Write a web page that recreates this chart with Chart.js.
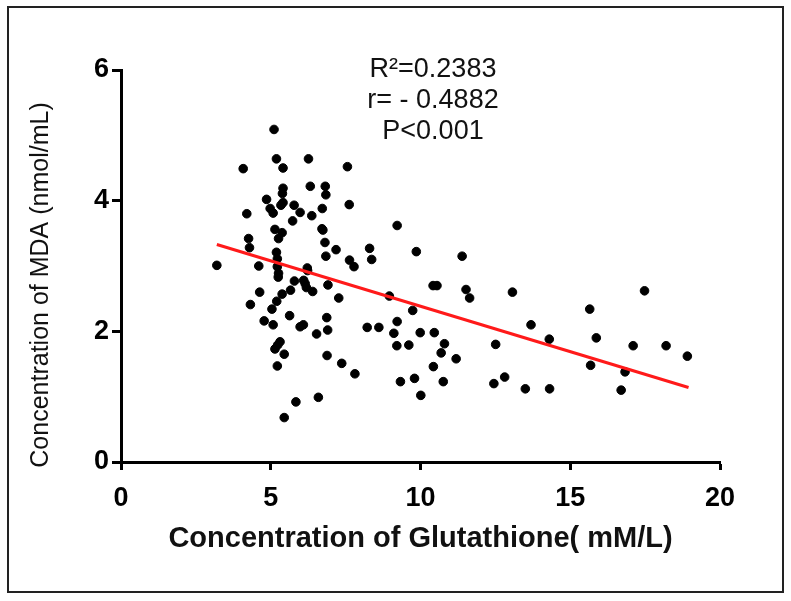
<!DOCTYPE html>
<html>
<head>
<meta charset="utf-8">
<script src="https://cdn.jsdelivr.net/npm/chart.js@4.4.1/dist/chart.umd.min.js"></script>
<style>
  html, body { margin: 0; padding: 0; background: #fff; }
  #wrap { width: 791px; height: 601px; }
</style>
</head>
<body>
<div id="wrap"><canvas id="scatter"></canvas></div>
<script>
// Glutathione (mM/L) vs MDA (nmol/mL), one entry per subject
const glutathione = [3.20, 4.08, 4.20, 4.26, 4.29, 4.32, 4.60, 4.63, 4.78, 4.86, 4.98, 5.08, 5.04, 5.08, 5.11, 5.14, 5.19, 5.19, 5.22, 5.14,
  5.23, 5.22, 5.26, 5.26, 5.25, 5.31, 5.20, 5.34, 5.41, 5.38, 5.41, 5.39, 5.41, 5.38, 5.45, 5.45, 5.63, 5.66, 5.73, 5.78,
  5.79, 5.84, 5.98, 5.98, 6.09, 6.10, 6.15, 6.22, 6.26, 6.23, 6.32, 6.37, 6.40, 6.19, 6.53, 6.59, 6.71, 6.72, 6.74, 6.82,
  6.84, 6.81, 6.84, 6.91, 6.87, 6.90, 6.88, 7.18, 7.27, 7.37, 7.56, 7.62, 7.63, 7.78, 7.81, 8.22, 8.30, 8.37, 8.61, 8.96,
  9.11, 9.21, 9.22, 9.22, 9.33, 9.61, 9.74, 9.80, 9.86, 9.99, 10.01, 10.43, 10.46, 10.42, 10.55, 10.69, 10.76, 10.80, 11.19, 11.39,
  11.52, 11.64, 12.45, 12.51, 12.81, 13.07, 13.50, 13.69, 14.30, 14.31, 15.65, 15.68, 15.87, 16.70, 16.83, 17.10, 17.48, 18.20, 18.91, 5.22];
const mda = [3.01, 4.49, 3.80, 3.42, 3.28, 2.41, 3.00, 2.60, 2.16, 4.02, 3.88, 3.81, 2.34, 2.10, 5.09, 3.56, 4.64, 3.21, 3.11, 1.73,
  1.79, 1.47, 3.42, 2.89, 2.83, 1.84, 2.46, 3.93, 3.97, 3.51, 4.19, 4.11, 4.50, 2.57, 1.65, 0.68, 2.24, 2.63, 3.69, 3.93,
  2.77, 0.92, 3.82, 2.07, 2.10, 2.78, 2.73, 2.97, 4.64, 2.93, 4.22, 3.77, 2.61, 2.67, 1.96, 0.99, 3.57, 3.88, 3.55, 4.22,
  4.09, 3.36, 3.15, 2.71, 2.21, 2.02, 1.63, 3.25, 2.51, 1.51, 4.52, 3.94, 3.09, 2.99, 1.35, 2.06, 3.27, 3.10, 2.06, 2.54,
  1.97, 1.78, 2.15, 3.62, 1.23, 1.79, 2.32, 1.28, 3.22, 1.98, 1.02, 1.46, 1.98, 2.70, 2.70, 1.67, 1.23, 1.81, 1.58, 3.15,
  2.64, 2.51, 1.20, 1.80, 1.30, 2.60, 1.12, 2.10, 1.88, 1.12, 2.34, 1.48, 1.90, 1.10, 1.38, 1.78, 2.62, 1.78, 1.62, 2.99];

// fitted regression line, end points
const fitX = [3.20, 18.95];
const fitY = [3.33, 1.14];

const xTicks = [0, 5, 10, 15, 20];
const yTicks = [0, 2, 4, 6];
const statsText = ["R\u00B2=0.2383", "r= - 0.4882", "P<0.001"];
const xTitle = "Concentration of Glutathione( mM/L)";
const yTitle = "Concentration of MDA (nmol/mL)";

const FONT = "'Liberation Sans', Arial, sans-serif";

const points = glutathione.map((g, i) => ({ x: g, y: mda[i] }));
const fitLine = fitX.map((x, i) => ({ x: x, y: fitY[i] }));

// frame round the figure, y title (sits a bit below centre) and the statistics block
const decorations = {
  id: "decorations",
  afterDraw(chart) {
    const ctx = chart.ctx;
    ctx.save();
    ctx.strokeStyle = "#222";
    ctx.lineWidth = 2;
    ctx.strokeRect(8, 7, 775, 585);

    ctx.fillStyle = "#111";
    ctx.font = "27px " + FONT;
    ctx.textAlign = "center";
    ctx.textBaseline = "middle";
    statsText.forEach((t, i) => ctx.fillText(t, 433, 70 + i * 31));

    ctx.font = "25px " + FONT;
    ctx.translate(41, 285);
    ctx.rotate(-Math.PI / 2);
    ctx.fillText(yTitle, 0, 0);
    ctx.restore();
  }
};

new Chart(document.getElementById("scatter"), {
  type: "scatter",
  data: {
    datasets: [
      {
        label: "MDA",
        data: points,
        backgroundColor: "#000",
        borderColor: "#000",
        pointRadius: 4.3,
        pointHoverRadius: 4.3,
        order: 2,
      },
      {
        type: "line",
        label: "fit",
        data: fitLine,
        borderColor: "#ff1a1a",
        borderWidth: 3,
        pointRadius: 0,
        fill: false,
        order: 1,
      },
    ],
  },
  options: {
    responsive: true,
    maintainAspectRatio: false,
    animation: false,
    layout: { padding: { left: 0, top: 70, right: 71, bottom: 0 } },
    plugins: {
      legend: { display: false },
      tooltip: { enabled: false },
    },
    scales: {
      x: {
        type: "linear",
        min: 0,
        max: 20,
        afterBuildTicks: (s) => { s.ticks = xTicks.map((v) => ({ value: v })); },
        afterFit: (s) => { s.height = 139; },
        border: { display: true, color: "#000", width: 3 },
        grid: { drawOnChartArea: false, drawTicks: true, tickLength: 8, tickWidth: 3, tickColor: "#000" },
        ticks: { color: "#000", padding: 12, font: { family: FONT, size: 27, weight: "bold" } },
        title: {
          display: true,
          text: xTitle,
          color: "#111",
          font: { family: FONT, size: 29, weight: "bold" },
          padding: { top: 0, bottom: 45 },
        },
      },
      y: {
        type: "linear",
        min: 0,
        max: 6,
        afterBuildTicks: (s) => { s.ticks = yTicks.map((v) => ({ value: v })); },
        afterFit: (s) => { s.width = 121; },
        border: { display: true, color: "#000", width: 3 },
        grid: { drawOnChartArea: false, drawTicks: true, tickLength: 9, tickWidth: 3, tickColor: "#000" },
        ticks: { color: "#000", padding: 3, font: { family: FONT, size: 27, weight: "bold" } },
      },
    },
  },
  plugins: [decorations],
});
</script>
</body>
</html>
